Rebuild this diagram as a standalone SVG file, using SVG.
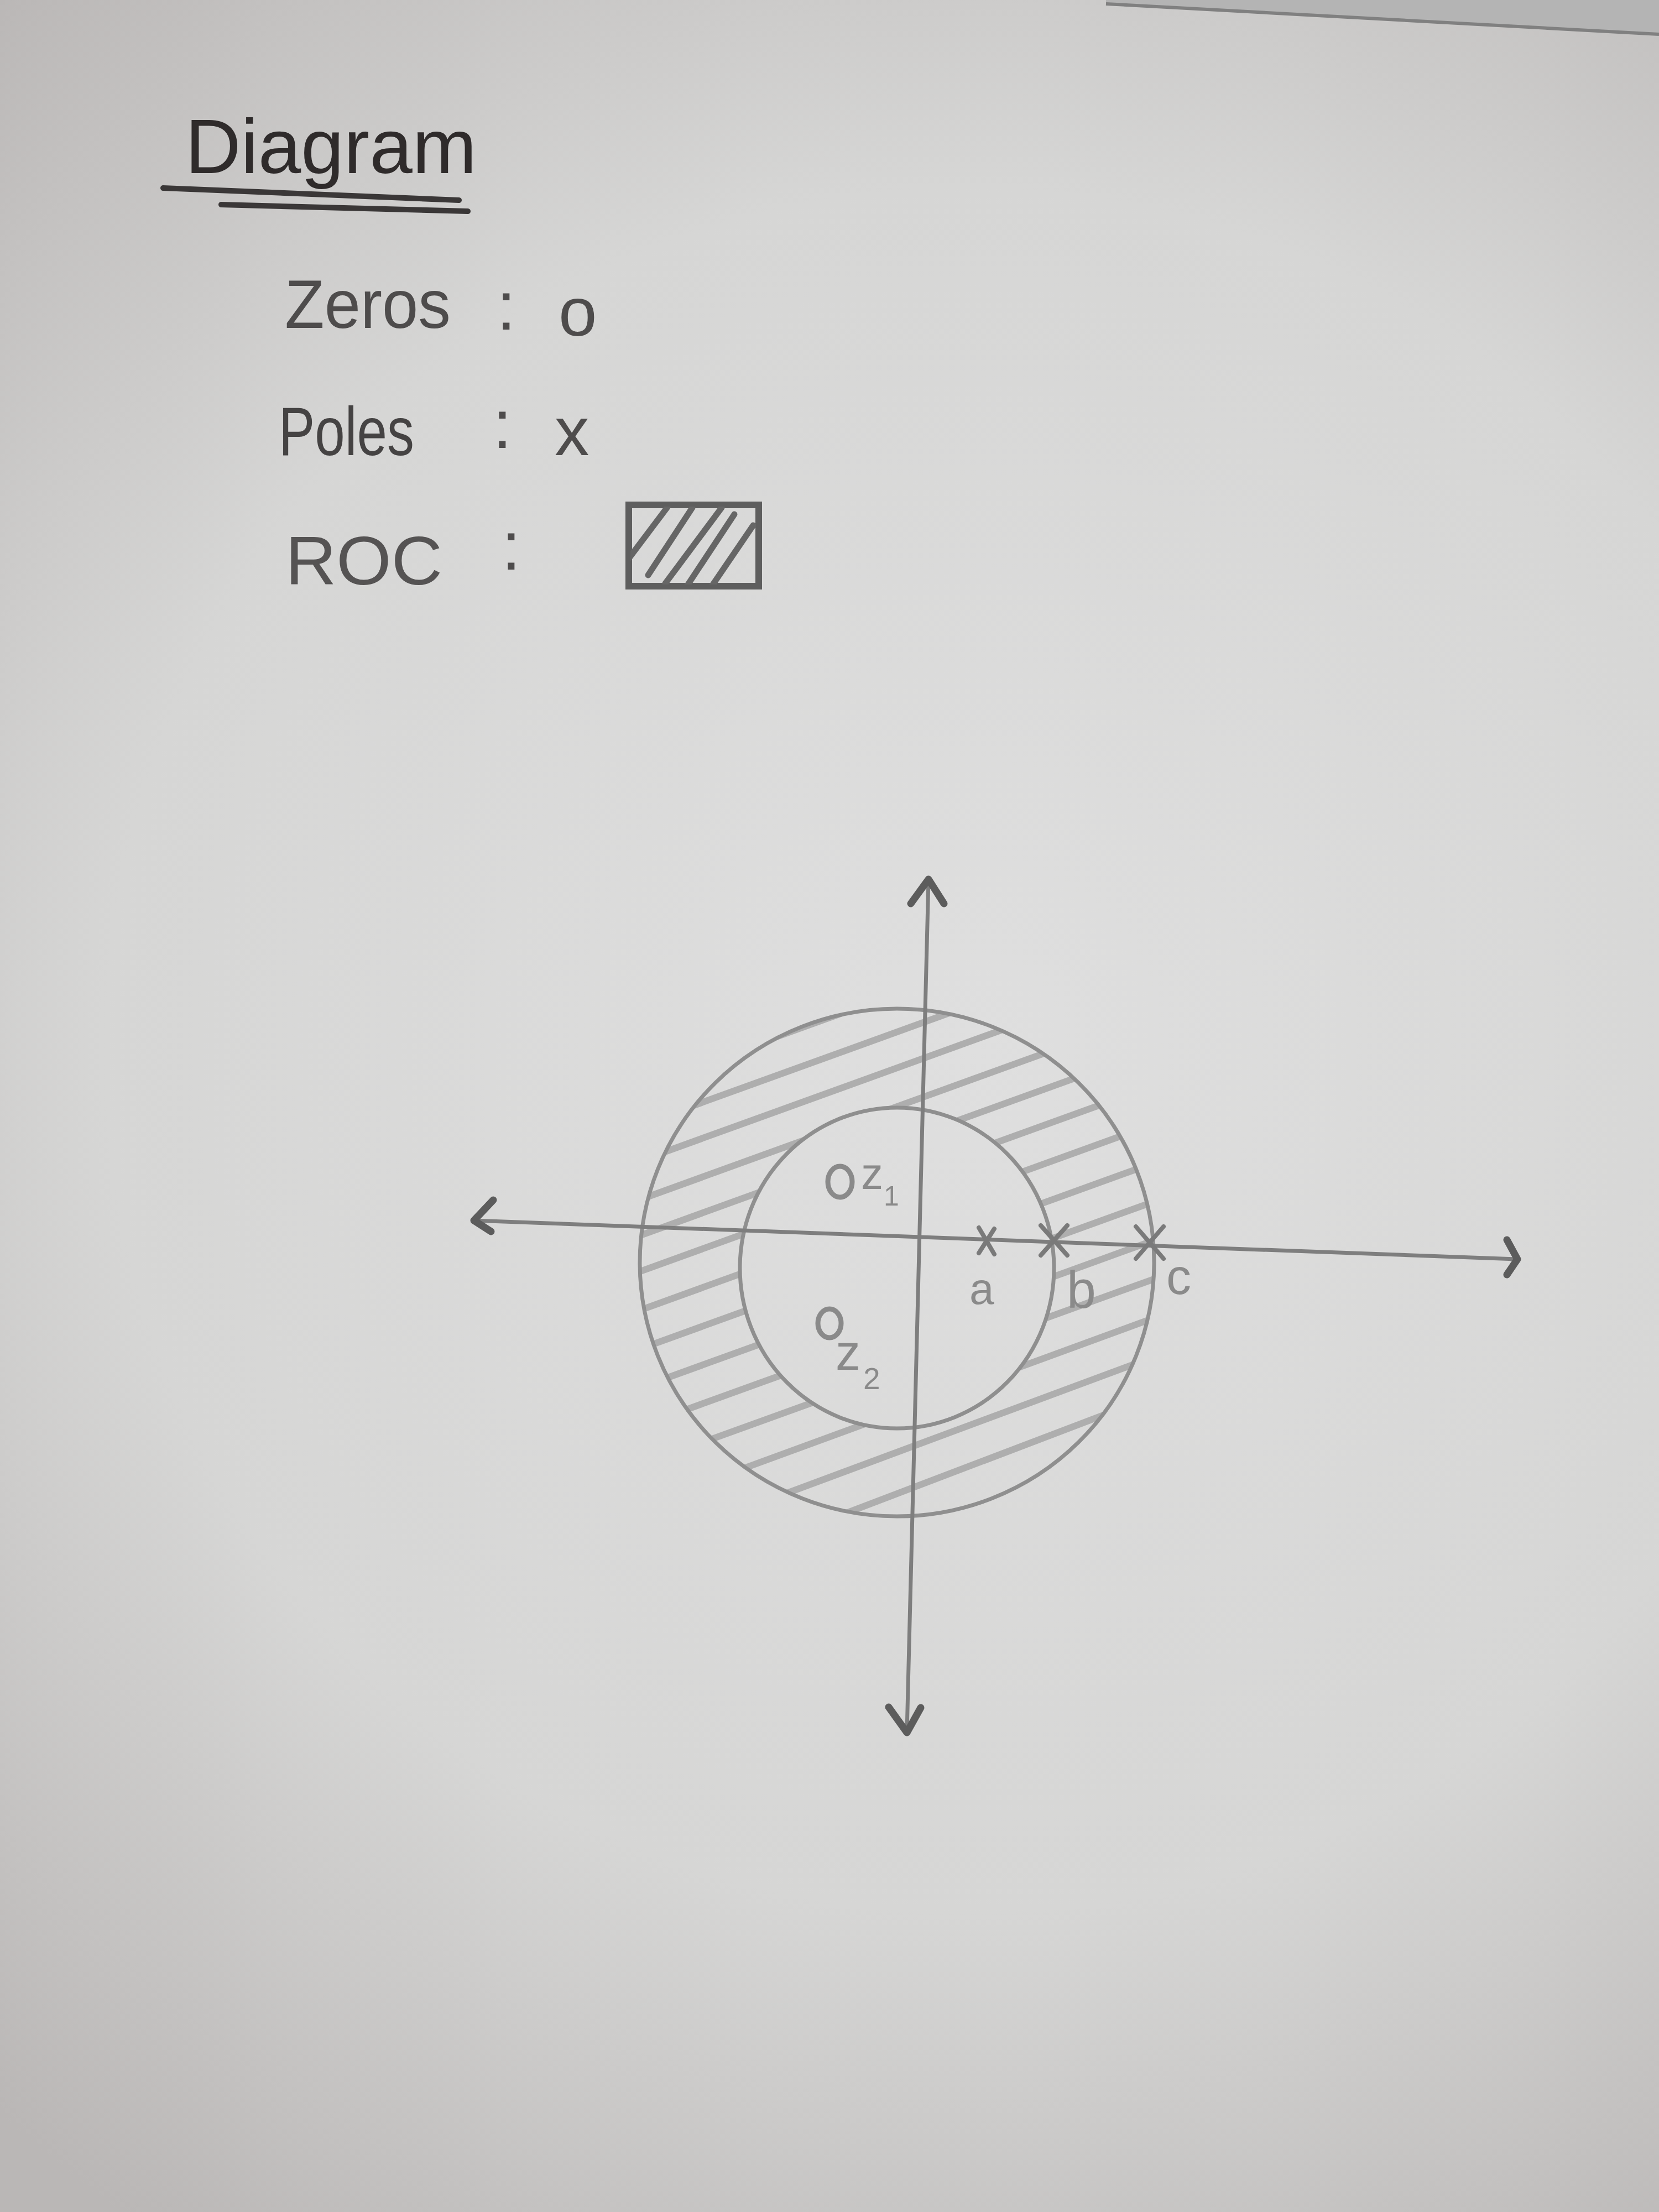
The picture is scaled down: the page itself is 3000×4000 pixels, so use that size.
<svg xmlns="http://www.w3.org/2000/svg" width="3000" height="4000" viewBox="0 0 3000 4000">
<defs>
<radialGradient id="paper" cx="1750" cy="1900" r="2600" gradientUnits="userSpaceOnUse">
<stop offset="0" stop-color="#dfdfdf"/>
<stop offset="0.6" stop-color="#d6d6d5"/>
<stop offset="1" stop-color="#bab7b6"/>
</radialGradient>
<clipPath id="annulus">
<path clip-rule="evenodd" d="M1157,2283 a465,459 0 1,0 930,0 a465,459 0 1,0 -930,0 Z M1338,2293 a284,290 0 1,0 568,0 a284,290 0 1,0 -568,0 Z"/>
</clipPath>
<clipPath id="boxclip"><rect x="1140" y="916" width="229" height="141"/></clipPath>
<style>
.hand{font-family:"Liberation Sans","DejaVu Sans",sans-serif}
.title{fill:#2f2b2b;font-size:140px}
.legend{fill:#4e4c4c;font-size:125px}
.pencil{fill:none;stroke:#8f8f8f;stroke-width:7;stroke-linecap:round}
.hatch{fill:none;stroke:#a6a6a6;stroke-width:12;stroke-linecap:round;opacity:0.85}
.axis{fill:none;stroke:#7e7e7e;stroke-width:7;stroke-linecap:round}
.head{fill:none;stroke:#5c5c5c;stroke-width:13;stroke-linecap:round;stroke-linejoin:round}
.pole{fill:none;stroke:#7a7a7a;stroke-width:8;stroke-linecap:round}
.zero{fill:none;stroke:#8a8a8a;stroke-width:9}
.lbl{fill:#8a8a8a;font-family:"Liberation Sans","DejaVu Sans",sans-serif}
</style>
</defs>

<rect x="0" y="0" width="3000" height="4000" fill="url(#paper)"/>
<path d="M2000,0 L2000,7 L3000,62 L3000,0 Z" fill="#b4b4b4"/>
<path d="M2000,7 L3000,62" stroke="#808080" stroke-width="6" fill="none"/>

<g id="title">
<text class="hand title" x="335" y="313" textLength="527" lengthAdjust="spacingAndGlyphs">Diagram</text>
<path d="M295,340 L830,362" stroke="#3a3737" stroke-width="10" stroke-linecap="round" fill="none"/>
<path d="M400,370 L846,382" stroke="#3a3737" stroke-width="10" stroke-linecap="round" fill="none"/>
</g>

<g id="legend-zeros">
<text class="hand legend" x="515" y="593" textLength="300" lengthAdjust="spacingAndGlyphs">Zeros</text>
<text class="hand legend" x="898" y="596" font-size="100">:</text>
<text class="hand legend" x="1010" y="607" font-size="110">o</text>
</g>

<g id="legend-poles">
<text class="hand legend" x="504" y="823" textLength="245" lengthAdjust="spacingAndGlyphs" style="fill:#454343">Poles</text>
<text class="hand legend" x="891" y="810" font-size="95">:</text>
<text class="hand legend" x="1003" y="823" font-size="125">x</text>
</g>

<g id="legend-roc">
<text class="hand legend" x="516" y="1057" font-size="155" textLength="284" lengthAdjust="spacingAndGlyphs" style="fill:#555353">ROC</text>
<text class="hand legend" x="907" y="1030" font-size="90">:</text>
<rect x="1137" y="913" width="235" height="147" fill="none" stroke="#5e5e5e" stroke-width="12"/>
<g stroke="#666" stroke-width="11" stroke-linecap="round" clip-path="url(#boxclip)">
<path d="M1137,1010 L1207,917"/>
<path d="M1172,1040 L1252,918"/>
<path d="M1203,1055 L1305,918"/>
<path d="M1242,1060 L1328,930"/>
<path d="M1287,1060 L1362,950"/>
</g>
</g>

<g id="roc-region">
<g clip-path="url(#annulus)">
<path class="hatch" d="M1100,1850 L2150,1470"/>
<path class="hatch" d="M1100,1915 L2150,1535"/>
<path class="hatch" d="M1100,1985 L2150,1605"/>
<path class="hatch" d="M1100,2055 L2150,1675"/>
<path class="hatch" d="M1100,2120 L2150,1740"/>
<path class="hatch" d="M1100,2190 L2150,1810"/>
<path class="hatch" d="M1100,2255 L2150,1875"/>
<path class="hatch" d="M1100,2320 L2150,1940"/>
<path class="hatch" d="M1100,2390 L2150,2010"/>
<path class="hatch" d="M1100,2460 L2150,2080"/>
<path class="hatch" d="M1100,2530 L2150,2150"/>
<path class="hatch" d="M1100,2600 L2150,2220"/>
<path class="hatch" d="M1100,2670 L2150,2290"/>
<path class="hatch" d="M1100,2745 L2150,2360"/>
<path class="hatch" d="M1100,2820 L2150,2430"/>
<path class="hatch" d="M1100,2900 L2150,2500"/>
<path class="hatch" d="M1100,2985 L2150,2580"/>
<path class="hatch" d="M1100,3070 L2150,2660"/>
<path class="hatch" d="M1100,3150 L2150,2740"/>
</g>
<ellipse class="pencil" cx="1622" cy="2283" rx="465" ry="459"/>
<ellipse class="pencil" cx="1622" cy="2293" rx="284" ry="290"/>
</g>

<g id="connectors">
<path class="axis" d="M1679,1592 L1640,3131"/>
<path class="head" d="M1647,1634 L1679,1590 L1707,1634"/>
<path class="head" d="M1607,3087 L1640,3133 L1665,3088"/>
<path class="axis" d="M856,2207 L2742,2277"/>
<path class="head" d="M892,2170 L857,2207 L888,2227"/>
<path class="head" d="M2725,2242 L2744,2277 L2725,2305"/>
</g>

<g id="pole-a">
<path class="pole" d="M1770,2220 L1798,2268 M1798,2222 L1770,2266"/>
<text class="lbl" x="1753" y="2358" font-size="80">a</text>
</g>
<g id="pole-b">
<path class="pole" d="M1882,2216 L1930,2270 M1930,2216 L1882,2270"/>
<text class="lbl" x="1929" y="2365" font-size="95">b</text>
</g>
<g id="pole-c">
<path class="pole" d="M2054,2218 L2104,2276 M2104,2218 L2054,2276"/>
<text class="lbl" x="2109" y="2340" font-size="90">c</text>
</g>

<g id="zero-z1">
<ellipse class="zero" cx="1519" cy="2137" rx="22" ry="28"/>
<text class="lbl" x="1557" y="2150" font-size="80">z</text>
<text class="lbl" x="1598" y="2180" font-size="50">1</text>
</g>
<g id="zero-z2">
<ellipse class="zero" cx="1500" cy="2393" rx="21" ry="26"/>
<text class="lbl" x="1511" y="2477" font-size="90">z</text>
<text class="lbl" x="1561" y="2512" font-size="55">2</text>
</g>
</svg>
